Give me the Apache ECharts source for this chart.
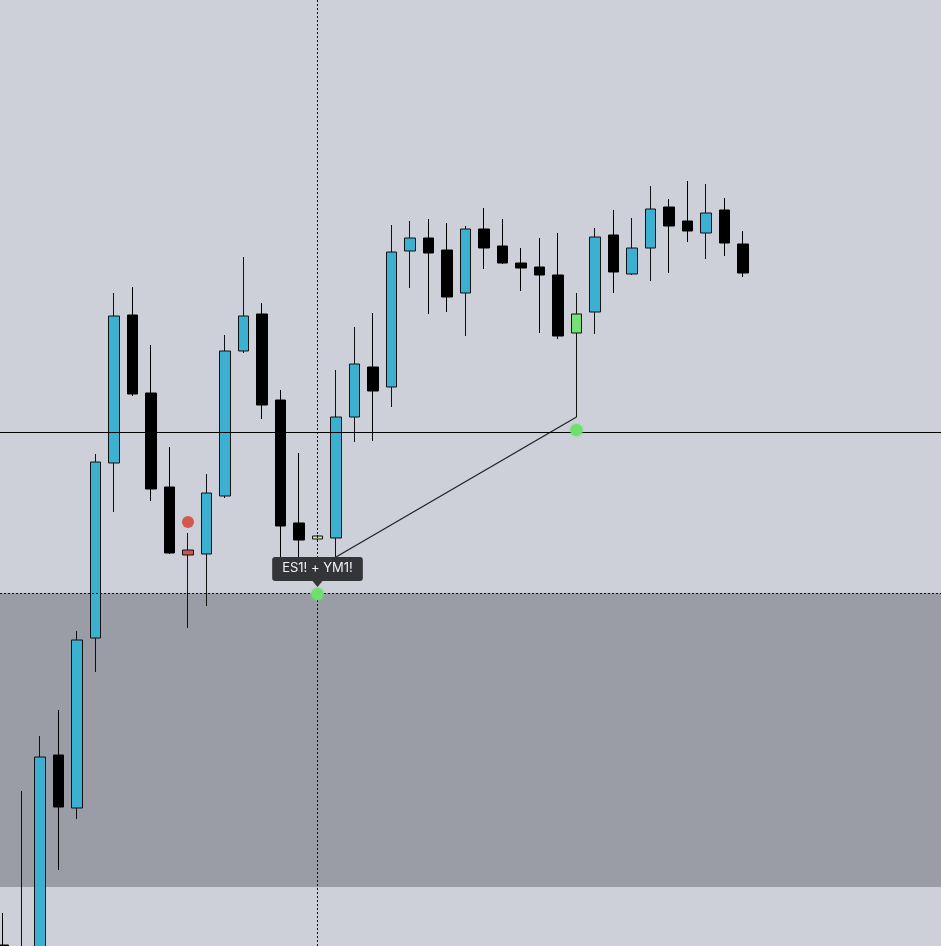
<!DOCTYPE html>
<html>
<head>
<meta charset="utf-8">
<script src="https://cdn.jsdelivr.net/npm/echarts@6/dist/echarts.min.js"></script>
<style>
  html, body { margin: 0; padding: 0; background: #cdd0d8; }
  #chart { width: 941px; height: 946px; }
</style>
</head>
<body>
<div id="chart"></div>
<script>
// ---- data (prices) ----
const categories = [];
for (let i = 0; i < 51; i++) categories.push('B' + i);

// [open, close, low, high]
const candles = [
  [4055, 4030, 4000, 4087],
  [4000, 4050, 3990, 4209],
  [3990, 4243, 3980, 4264],
  [4245, 4193, 4130, 4290],
  [4192, 4360, 4181, 4369],
  [4362, 4538, 4328, 4546],
  [4537, 4684, 4488, 4707],
  [4685, 4606, 4604, 4713],
  [4607, 4511, 4499, 4655],
  [4513, 4447, 4446, 4553],
  [4450, 4445, 4372, 4467],
  [4446, 4507, 4394, 4526],
  [4504, 4649, 4502, 4665],
  [4649, 4684, 4647, 4743],
  [4686, 4595, 4581, 4697],
  [4600, 4474, 4442, 4610],
  [4477, 4460, 4443, 4547],
  [4464, 4461, 4460, 4465],
  [4462, 4583, 4443, 4630],
  [4583, 4636, 4558, 4673],
  [4633, 4609, 4559, 4687],
  [4613, 4748, 4593, 4775],
  [4749, 4762, 4712, 4779],
  [4762, 4747, 4686, 4781],
  [4750, 4703, 4688, 4777],
  [4707, 4771, 4664, 4774],
  [4771, 4752, 4731, 4792],
  [4754, 4737, 4736, 4781],
  [4737, 4732, 4709, 4752],
  [4733, 4725, 4667, 4762],
  [4725, 4664, 4661, 4767],
  [4667, 4686, 4583, 4707],
  [4688, 4763, 4666, 4772],
  [4765, 4728, 4707, 4790],
  [4726, 4752, 4725, 4782],
  [4752, 4791, 4719, 4814],
  [4793, 4774, 4727, 4801],
  [4779, 4769, 4758, 4819],
  [4767, 4787, 4741, 4816],
  [4790, 4757, 4744, 4802],
  [4756, 4727, 4723, 4769]
];

// highlighted candles: index -> fill colour
const highlightIdx = [10, 17, 31];
const highlightColors = ['#c9574e', '#d3e3ad', '#74e174'];

// levels
const levelLine = 4568;         // solid horizontal line
const zoneTop = 4407;           // shaded zone (and dotted crosshair)
const zoneBottom = 4113;
const crossIndex = 17;          // vertical crosshair

// trend line points [index, price]
const trendPts = [[18, 4443], [31, 4583]];

// markers [index, price]
const redDots = [[10, 4478]];
const greenDots = [[31, 4570]];
const cursorDot = [[17, 4406]];
const cursorLabel = 'ES1! + YM1!';

const yMin = 4054, yMax = 5000;

// ---- chart ----
const chart = echarts.init(document.getElementById('chart'), null, { renderer: 'canvas' });

const candleData = candles.map((c, i) => {
  const k = highlightIdx.indexOf(i);
  if (k >= 0) {
    return { value: c, itemStyle: { color: highlightColors[k], color0: highlightColors[k], borderColor: '#111', borderColor0: '#111' } };
  }
  return c;
});

chart.setOption({
  backgroundColor: '#cdd0d8',
  animation: false,
  grid: [
    { left: 3, right: 13, top: 0, bottom: 0 },
    { left: 0, right: 0, top: 0, bottom: 0 }
  ],
  xAxis: [
    { type: 'category', data: categories, boundaryGap: false, show: false, gridIndex: 0 },
    { type: 'value', min: 0, max: 1, show: false, gridIndex: 1, splitLine: { show: false } }
  ],
  yAxis: [
    { type: 'value', min: yMin, max: yMax, show: false, splitLine: { show: false }, gridIndex: 0 },
    { type: 'value', min: yMin, max: yMax, show: false, splitLine: { show: false }, gridIndex: 1 }
  ],
  series: [
    {
      // full-width shaded zone
      type: 'line',
      xAxisIndex: 1, yAxisIndex: 1,
      data: [],
      z: 1,
      markArea: {
        silent: true,
        itemStyle: { color: '#9a9da6' },
        data: [[{ yAxis: zoneTop, xAxis: 0 }, { yAxis: zoneBottom, xAxis: 1 }]]
      }
    },
    {
      type: 'candlestick',
      data: candleData,
      barWidth: 11,
      clip: false,
      itemStyle: {
        color: '#3bb0d1',
        color0: '#000000',
        borderColor: '#111111',
        borderColor0: '#000000',
        borderWidth: 1
      },
      markLine: {
        silent: true,
        symbol: ['none', 'none'],
        label: { show: false },
        data: [
          { xAxis: categories[crossIndex], lineStyle: { color: '#111', width: 1, type: [2, 2] } }
        ]
      },
      z: 3
    },
    {
      // full-width horizontal lines
      type: 'line',
      xAxisIndex: 1, yAxisIndex: 1,
      data: [],
      z: 7,
      markLine: {
        silent: true,
        symbol: ['none', 'none'],
        label: { show: false },
        data: [
          { yAxis: levelLine, lineStyle: { color: '#000', width: 1.2, type: 'solid' } },
          { yAxis: zoneTop, lineStyle: { color: '#111', width: 1.2, type: [2, 2] } }
        ]
      }
    },
    {
      type: 'line',
      data: trendPts,
      symbol: 'none',
      lineStyle: { color: '#222', width: 1.3 },
      z: 4
    },
    {
      type: 'scatter',
      data: redDots,
      symbolSize: 12,
      itemStyle: { color: '#d2574d', opacity: 1 },
      z: 8
    },
    {
      type: 'scatter',
      data: greenDots,
      symbolSize: 12,
      itemStyle: { color: '#6fe06f', opacity: 1, shadowBlur: 3, shadowColor: '#6fe06f' },
      z: 8
    },
    {
      type: 'scatter',
      data: cursorDot,
      symbolSize: 12,
      itemStyle: { color: '#6fe06f', opacity: 1, shadowBlur: 3, shadowColor: '#6fe06f' },
      label: {
        show: true,
        position: 'top',
        distance: 7,
        formatter: cursorLabel,
        color: '#f0f0f0',
        opacity: 1,
        fontFamily: 'Inter, "Liberation Sans", sans-serif',
        fontSize: 13,
        lineHeight: 15,
        backgroundColor: '#343538',
        borderRadius: 3,
        padding: [4, 10, 5, 10]
      },
      z: 9
    },
    {
      type: 'scatter',
      data: cursorDot,
      symbol: 'triangle',
      symbolSize: [10, 6],
      symbolRotate: 180,
      symbolOffset: [0, -10],
      itemStyle: { color: '#343538', opacity: 1 },
      z: 9
    }
  ]
});
</script>
</body>
</html>
